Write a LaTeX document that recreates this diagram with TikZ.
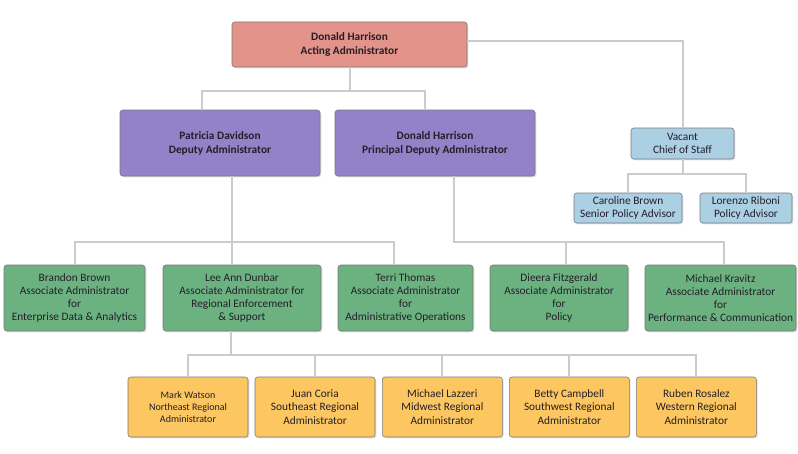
\documentclass[tikz,border=0pt]{standalone}
\usepackage{fontspec}
\setmainfont{Carlito}
\usetikzlibrary{positioning,shadows}
\definecolor{orgred}{RGB}{227,147,137}
\definecolor{orgpurple}{RGB}{148,130,200}
\definecolor{orgblue}{RGB}{171,207,227}
\definecolor{orggreen}{RGB}{108,178,128}
\definecolor{orgyellow}{RGB}{252,198,96}
\definecolor{orgedge}{RGB}{120,120,120}
\definecolor{orgline}{RGB}{204,204,204}
\definecolor{orgtext}{RGB}{35,30,42}
\tikzset{
  post/.style={
    rectangle, rounded corners=2pt, draw=orgedge, thin,
    text=orgtext, align=center, inner sep=1pt, outer sep=0pt,
    font=\fontsize{8.5}{9.75}\selectfont,
    drop shadow={shadow xshift=1pt, shadow yshift=-1pt, opacity=0.25}
  },
  postR/.style={
    post, fill=orgred, minimum width=176.25pt, minimum height=33.75pt,
    font=\fontsize{8.5}{10.5}\selectfont\bfseries
  },
  postP/.style={
    post, fill=orgpurple, minimum width=150pt, minimum height=49.5pt,
    font=\fontsize{8.5}{10.5}\selectfont\bfseries
  },
  postB/.style={
    post, fill=orgblue, minimum height=22.5pt
  },
  postG/.style={
    post, fill=orggreen, minimum height=49.5pt
  },
  postY/.style={
    post, fill=orgyellow, minimum width=90pt, minimum height=45pt,
    font=\fontsize{8.5}{10.25}\selectfont
  },
  link/.style={draw=orgline, line width=1.5pt}
}

\begin{document}
\begin{tikzpicture}
\useasboundingbox (0,0) rectangle (598.5pt,-339.75pt);

\node[postR] (admin) at (262.125pt,-33.375pt)
  {Donald Harrison\\Acting Administrator};

\node[postP] (deputy) at (165pt,-107.25pt)
  {Patricia Davidson\\Deputy Administrator};

\node[postP, right=11.25pt of deputy] (principal)
  {Donald Harrison\\Principal Deputy Administrator};

\node[postB, minimum width=77.25pt, minimum height=23.25pt]
  (staff) at (511.875pt,-107.625pt) {Vacant\\Chief of Staff};

\node[postB, minimum width=81pt] (senior) at (471pt,-156pt)
  {Caroline Brown\\Senior Policy Advisor};

\node[postB, right=13.5pt of senior, minimum width=69pt]
  (advisor) {Lorenzo Riboni\\Policy Advisor};

% associate administrators
\node[postG, minimum width=105.75pt] (data) at (55.875pt,-223.5pt)
  {Brandon Brown\\Associate Administrator\\for\\
   Enterprise Data \& Analytics};

\node[postG, right=13.5pt of data, minimum width=118.5pt]
  (enforce) {Lee Ann Dunbar\\Associate Administrator for\\
             Regional Enforcement\\\& Support};

\node[postG, right=12.75pt of enforce, minimum width=101.25pt]
  (operations) {Terri Thomas\\Associate Administrator\\for\\
                Administrative Operations};

\node[postG, right=12.75pt of operations, minimum width=103.5pt]
  (policy) {Dieera Fitzgerald\\Associate Administrator\\for\\Policy};

\node[postG, right=12.75pt of policy, minimum width=113.25pt]
  (comm) {Michael Kravitz\\Associate Administrator\\for\\
          Performance \& Communication};

% regional administrators
\node[postY, font=\fontsize{7.5}{9}\selectfont]
  (northeast) at (141pt,-305.25pt)
  {Mark Watson\\Northeast Regional\\Administrator};

\node[postY, right=5.25pt of northeast] (southeast)
  {Juan Coria\\Southeast Regional\\Administrator};

\node[postY, right=5.5pt of southeast] (midwest)
  {Michael Lazzeri\\Midwest Regional\\Administrator};

\node[postY, right=5.25pt of midwest] (southwest)
  {Betty Campbell\\Southwest Regional\\Administrator};

\node[postY, right=5.25pt of southwest] (western)
  {Ruben Rosalez\\Western Regional\\Administrator};

\draw[link] (admin.south) -- ++(0,-18pt) -| ([xshift=-13.5pt]deputy.north);
\draw[link] (admin.south) -- ++(0,-18pt) -| ([xshift=-7.5pt]principal.north);
\draw[link] ([yshift=2.5pt]admin.east) -| (staff.north);
\draw[link] (staff.south) -- ++(0,-11.25pt) -| (senior.north);
\draw[link] (staff.south) -- ++(0,-11.25pt) -| (advisor.north);
\draw[link] ([xshift=9pt]deputy.south) -- ++(0,-49.5pt) -| (data.north);
\draw[link] ([xshift=9pt]deputy.south) -- ([xshift=-7.5pt]enforce.north);
\draw[link] ([xshift=9pt]deputy.south) -- ++(0,-49.5pt)
  -| ([xshift=-8.5pt]operations.north);
\draw[link] ([xshift=14.25pt]principal.south) -- ++(0,-49.5pt)
  -| ([xshift=5.25pt]policy.north);
\draw[link] ([xshift=14.25pt]principal.south) -- ++(0,-49.5pt)
  -| ([xshift=2.5pt]comm.north);
\draw[link] ([xshift=-8.25pt]enforce.south) -- ++(0,-18pt) -| (northeast.north);
\draw[link] ([xshift=-8.25pt]enforce.south) -- ++(0,-18pt) -| (southeast.north);
\draw[link] ([xshift=-8.25pt]enforce.south) -- ++(0,-18pt) -| (midwest.north);
\draw[link] ([xshift=-8.25pt]enforce.south) -- ++(0,-18pt) -| (southwest.north);
\draw[link] ([xshift=-8.25pt]enforce.south) -- ++(0,-18pt) -| (western.north);
\end{tikzpicture}
\end{document}
